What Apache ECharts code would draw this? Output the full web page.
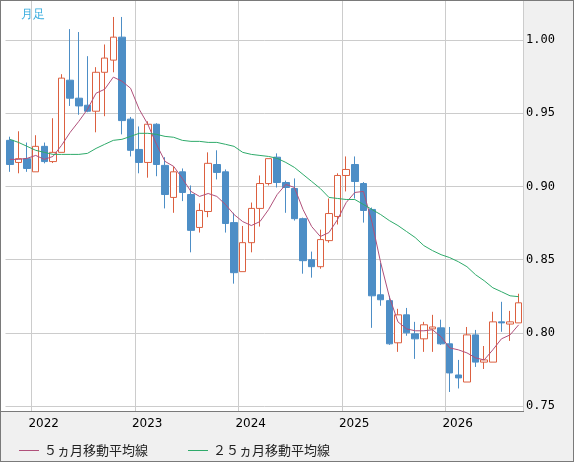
<!DOCTYPE html>
<html><head><meta charset="utf-8">
<script src="https://cdn.jsdelivr.net/npm/echarts@6/dist/echarts.min.js"></script>
<style>
html,body{margin:0;padding:0;}
#wrap{position:relative;width:572px;height:460px;background:#f0f0f0;border:1px solid #7a7a7a;}
#plotbg{position:absolute;left:0;top:0;width:522px;height:410px;background:#fff;border-right:1px solid #7a7a7a;border-bottom:1px solid #7a7a7a;}
#chart{position:absolute;left:-1px;top:-1px;width:574px;height:462px;}
</style></head>
<body><div id="wrap"><div id="plotbg"></div><div id="chart"></div></div>
<script>
const months = [];
for (let i = 0; i < 60; i++) { const m = 9 + i; const y = 2021 + Math.floor(m / 12); months.push(y + '/' + String(m % 12 + 1).padStart(2, '0')); }
// [open, close, low, high]
const candles = [
[0.9315,0.915,0.910,0.934],[0.9164,0.919,0.909,0.9377],[0.919,0.9123,0.910,0.930],[0.910,0.9274,0.910,0.935],
[0.9274,0.917,0.9158,0.930],[0.917,0.9233,0.916,0.9466],[0.9233,0.974,0.9233,0.9767],[0.9726,0.9603,0.955,1.0075],
[0.9603,0.955,0.949,1.0055],[0.9555,0.9514,0.9507,0.989],[0.9514,0.978,0.937,0.9815],[0.978,0.9877,0.948,0.997],
[0.9863,1.002,0.978,1.0158],[1.002,0.945,0.9356,1.0158],[0.946,0.9247,0.9205,0.9475],[0.9253,0.9164,0.909,0.941],
[0.9164,0.9425,0.906,0.9445],[0.9425,0.915,0.907,0.9432],[0.9144,0.8945,0.885,0.920],[0.8925,0.910,0.882,0.9137],
[0.910,0.8959,0.890,0.9123],[0.8945,0.870,0.855,0.9007],[0.872,0.8836,0.8685,0.8884],[0.8829,0.9158,0.879,0.9233],
[0.915,0.9096,0.9048,0.9247],[0.910,0.8747,0.8685,0.9116],[0.8753,0.8411,0.8336,0.882],[0.8418,0.8616,0.8418,0.873],
[0.8616,0.885,0.855,0.889],[0.885,0.902,0.8726,0.9075],[0.902,0.919,0.9007,0.919],[0.92,0.9027,0.8993,0.9226],
[0.9027,0.8993,0.882,0.904],[0.8986,0.878,0.8767,0.9055],[0.878,0.8493,0.8404,0.8787],[0.85,0.8452,0.8377,0.8555],
[0.8452,0.8637,0.8438,0.8705],[0.863,0.8815,0.8616,0.8918],[0.8795,0.9075,0.874,0.909],[0.9075,0.9116,0.8966,0.9205],
[0.915,0.9034,0.8918,0.9205],[0.902,0.8836,0.8753,0.903],[0.8843,0.8253,0.8034,0.8856],[0.826,0.8226,0.8185,0.848],
[0.822,0.7925,0.7918,0.8253],[0.7932,0.8123,0.787,0.8164],[0.8123,0.800,0.798,0.817],[0.7993,0.7959,0.7822,0.8075],
[0.7959,0.8055,0.787,0.8075],[0.8027,0.804,0.787,0.8123],[0.8034,0.7925,0.7918,0.809],[0.7925,0.7726,0.7596,0.804],
[0.7712,0.7692,0.762,0.7815],[0.7664,0.7986,0.7664,0.804],[0.7986,0.780,0.7767,0.802],[0.780,0.7815,0.7753,0.791],
[0.780,0.8075,0.780,0.8144],[0.8075,0.8068,0.8007,0.8212],[0.806,0.8075,0.7945,0.815],[0.8068,0.8205,0.8068,0.8267]
];
const ma5 = [0.9185,0.9185,0.9192,0.9212,0.9185,0.9205,0.9281,0.937,0.9445,0.9527,0.9637,0.9664,0.9747,0.9719,0.9671,0.9527,0.9425,0.9288,0.9171,0.9137,
0.9055,0.8966,0.8932,0.8952,0.8932,0.8877,0.8808,0.876,0.8733,0.876,0.8842,0.8945,0.9014,0.8993,0.8842,0.8726,0.8658,0.8685,0.8774,0.889,
0.8959,0.8966,0.8753,0.8479,0.8247,0.8075,0.8027,0.8014,0.8014,0.8021,0.7973,0.7897,0.7884,0.7863,0.7829,0.7815,0.7884,0.7959,0.7986,0.8055];
const ma25 = [0.9322,0.9301,0.9274,0.9247,0.9233,0.9219,0.9219,0.9219,0.9219,0.9226,0.926,0.9288,0.9315,0.9322,0.9342,0.9363,0.9363,0.9356,0.9342,0.9336,
0.9315,0.9308,0.9308,0.9301,0.9301,0.9288,0.9274,0.9233,0.9219,0.9212,0.9205,0.9192,0.9164,0.913,0.9082,0.9034,0.8986,0.8925,0.8918,0.8911,
0.8911,0.8877,0.8842,0.8808,0.8767,0.8733,0.8692,0.8651,0.8596,0.8562,0.8534,0.8514,0.8486,0.8452,0.8397,0.8356,0.8308,0.8281,0.8253,0.8247];
const yTicks = [0.75,0.80,0.85,0.90,0.95,1.00];
const names = ['５ヵ月移動平均線','２５ヵ月移動平均線'];
const yearIdx = i => i % 12 === 3;
const chart = echarts.init(document.getElementById('chart'));
chart.setOption({
  animation:false,
  textStyle:{fontFamily:'DejaVu Sans'},
  title:{text:'月足',left:16,top:4,textStyle:{color:'#33aadd',fontSize:12,fontWeight:'normal'}},
  grid:{left:5.5,right:51,top:1,bottom:51},
  legend:{left:14,top:439,itemWidth:20,itemHeight:1,itemGap:40,icon:'rect',
    textStyle:{fontSize:13,color:'#222',fontFamily:'Noto Sans CJK JP'},data:names},
  xAxis:{type:'category',data:months,boundaryGap:true,
    axisLine:{show:false},axisTick:{show:false},
    splitLine:{show:true,interval:(i)=>yearIdx(i),lineStyle:{color:'#cccccc'}},
    axisLabel:{interval:(i)=>yearIdx(i),formatter:v=>v.slice(0,4),padding:[0,0,0,16],margin:7,color:'#000',fontSize:12}},
  yAxis:{type:'value',position:'right',min:0.7466,max:1.0267,scale:true,
    axisLine:{show:false},
    axisTick:{show:false,customValues:yTicks},
    splitLine:{show:true,lineStyle:{color:'#cccccc'}},
    axisLabel:{customValues:yTicks,formatter:v=>v.toFixed(2),margin:3,color:'#000',fontSize:12,fontFamily:'DejaVu Sans Mono'}},
  series:[
    {type:'candlestick',data:candles,barWidth:7,
     itemStyle:{color:'#ffffff',color0:'#4d8ec6',borderColor:'#dc6040',borderColor0:'#4d8ec6',borderWidth:1}},
    {name:names[0],type:'line',data:ma5,symbol:'none',lineStyle:{color:'#b0507a',width:1},itemStyle:{color:'#b0507a'}},
    {name:names[1],type:'line',data:ma25,symbol:'none',lineStyle:{color:'#2eaa6a',width:1},itemStyle:{color:'#2eaa6a'}}
  ]
});
</script></body></html>
